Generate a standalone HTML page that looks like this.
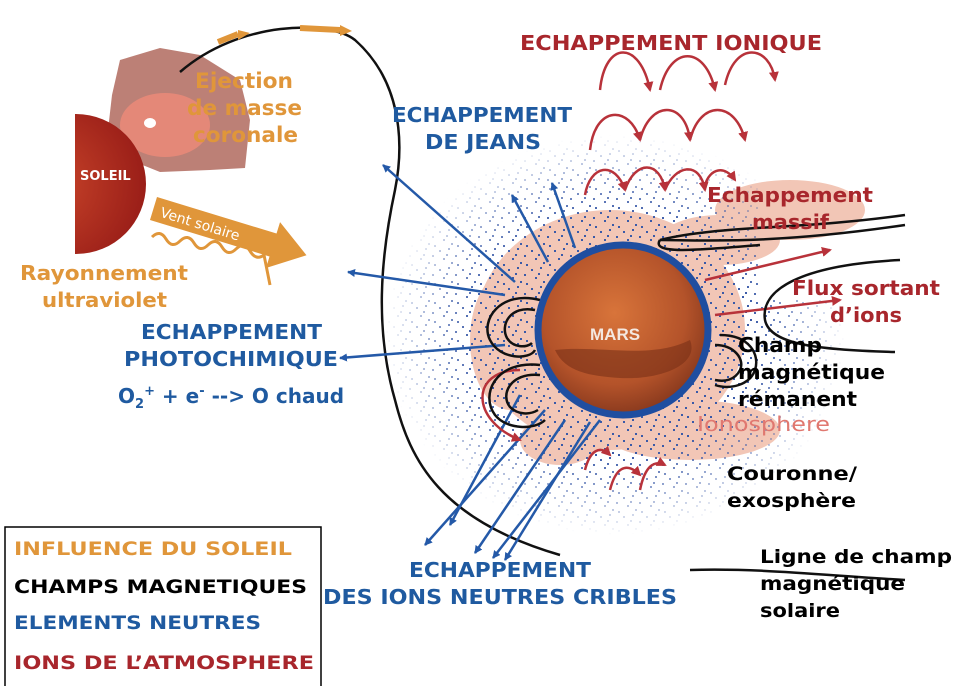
<!DOCTYPE html>
<html><head><meta charset="utf-8"><style>
html,body{margin:0;padding:0;background:#fff;}
svg{display:block;font-family:"DejaVu Sans","Liberation Sans",sans-serif;font-weight:bold;}
</style></head><body>
<svg width="960" height="686" viewBox="0 0 960 686" xmlns="http://www.w3.org/2000/svg">
<defs>
<marker id="ab" markerWidth="8" markerHeight="8" refX="7" refY="4" orient="auto" markerUnits="userSpaceOnUse"><path d="M0,0 L8,4 L0,8 Z" fill="#2459a8"/></marker>
<marker id="ar" markerWidth="10" markerHeight="10" refX="8" refY="5" orient="auto" markerUnits="userSpaceOnUse"><path d="M0,0 L10,5 L0,10 Z" fill="#b8323a"/></marker>
<radialGradient id="mg" cx="0.45" cy="0.4" r="0.6"><stop offset="0" stop-color="#d8743a"/><stop offset="0.7" stop-color="#b4532a"/><stop offset="1" stop-color="#8a3a1e"/></radialGradient>
<radialGradient id="sg" cx="0.3" cy="0.5" r="0.7"><stop offset="0" stop-color="#c9452a"/><stop offset="1" stop-color="#9a1e18"/></radialGradient>
<clipPath id="sc"><rect x="75" y="0" width="200" height="400"/></clipPath>
<pattern id="dp" width="23" height="19" patternUnits="userSpaceOnUse">
<rect x="2" y="3" width="2" height="2" fill="#3a5aa8"/><rect x="11" y="1" width="2" height="2" fill="#3a5aa8"/>
<rect x="18" y="8" width="2" height="2" fill="#3a5aa8"/><rect x="6" y="11" width="2" height="2" fill="#3a5aa8"/>
<rect x="14" y="15" width="2" height="2" fill="#3a5aa8"/><rect x="20" y="17" width="2" height="2" fill="#3a5aa8"/>
<rect x="9" y="7" width="2" height="2" fill="#3a5aa8"/>
</pattern>
<radialGradient id="fade" cx="0.5" cy="0.5" r="0.5"><stop offset="0.6" stop-color="#fff"/><stop offset="1" stop-color="#000"/></radialGradient>
<mask id="dm"><ellipse cx="615" cy="335" rx="230" ry="200" fill="url(#fade)"/><rect x="760" y="100" width="200" height="200" fill="#000"/></mask>
</defs>

<!-- pink clouds -->
<g fill="#f0b9a4" opacity="0.8">
<ellipse cx="610" cy="330" rx="135" ry="120"/>
<ellipse cx="510" cy="340" rx="40" ry="70"/>
<ellipse cx="790" cy="210" rx="75" ry="30"/>
<ellipse cx="720" cy="240" rx="60" ry="25"/>
<ellipse cx="690" cy="430" rx="90" ry="30"/>
<ellipse cx="560" cy="440" rx="40" ry="25"/>
</g>

<!-- blue dots -->
<ellipse cx="615" cy="335" rx="230" ry="200" fill="url(#dp)" mask="url(#dm)"/>

<!-- CME -->
<path d="M120,60 L160,48 L200,55 L240,80 L250,120 L245,168 L210,170 L160,172 L130,160 L108,130 L112,95 Z" fill="#b06a5e" opacity="0.85"/>
<ellipse cx="165" cy="125" rx="45" ry="32" fill="#e48878"/>
<ellipse cx="150" cy="123" rx="6" ry="5" fill="#fff"/>
<!-- Sun -->
<circle cx="76" cy="184" r="70" fill="url(#sg)" clip-path="url(#sc)"/>
<text x="80" y="180" font-size="13" fill="#fff">SOLEIL</text>

<!-- big black curve -->
<path d="M180,72 C240,20 330,20 355,40 C400,80 405,140 395,190 C380,260 375,330 395,400 C410,460 440,520 560,555" fill="none" stroke="#111" stroke-width="2.5"/>
<path d="M218,42 L238,34 M300,28 L340,30" stroke="#e0963a" stroke-width="6" fill="none"/>
<path d="M238,30 L250,33 L238,40 Z M340,25 L352,31 L340,36 Z" fill="#e0963a"/>

<!-- Vent solaire arrow -->
<g transform="translate(157,197) rotate(17)">
<path d="M0,0 L125,0 L125,-12 L160,12 L125,36 L125,24 L0,24 Z" fill="#e0963a"/>
<text x="8" y="18" font-size="14" fill="#fff" font-weight="normal">Vent solaire</text>
</g>
<!-- UV wave -->
<path d="M152,237 q8,-8 14,2 t14,2 t14,2 t14,2 t14,2 t14,2 t14,2 t14,4 l6,30" fill="none" stroke="#e0963a" stroke-width="3"/>

<!-- blue arrows -->
<g stroke="#2459a8" stroke-width="2.5" marker-end="url(#ab)" fill="none">
<line x1="515" y1="282" x2="383" y2="165"/>
<line x1="505" y1="295" x2="348" y2="272"/>
<line x1="505" y1="345" x2="340" y2="358"/>
<line x1="548" y1="262" x2="512" y2="195"/>
<line x1="575" y1="248" x2="552" y2="183"/>
<line x1="545" y1="410" x2="425" y2="545"/>
<line x1="565" y1="420" x2="475" y2="553"/>
<line x1="590" y1="422" x2="505" y2="560"/>
<line x1="600" y1="420" x2="493" y2="558"/>
<line x1="520" y1="395" x2="450" y2="525"/>
</g>

<!-- red arcs -->
<g stroke="#b8323a" stroke-width="2.5" fill="none" marker-end="url(#ar)">
<path d="M600,90 C605,40 640,40 650,90"/>
<path d="M660,90 C670,45 705,45 715,90"/>
<path d="M725,85 C735,40 770,45 775,80"/>
<path d="M590,150 C595,105 630,105 640,140"/>
<path d="M640,140 C650,100 685,100 690,140"/>
<path d="M690,140 C700,100 735,100 745,140"/>
<path d="M585,195 C590,165 615,160 625,190"/>
<path d="M625,190 C635,160 660,160 665,190"/>
<path d="M665,190 C675,165 700,160 705,190"/>
<path d="M705,185 C710,168 725,165 735,180"/>
<path d="M705,280 L830,250"/>
<path d="M715,315 L840,300"/>
<path d="M520,370 C470,370 470,420 520,440"/>
<path d="M610,490 C615,470 625,460 640,475"/>
<path d="M640,490 C645,465 655,460 665,465"/>
<path d="M585,470 C590,450 600,445 610,455"/>
</g>

<!-- black field lines -->
<g stroke="#111" stroke-width="2.5" fill="none">
<path d="M905,215 C800,230 720,225 660,240 C700,240 770,245 905,225" />
<path d="M660,240 C650,255 700,250 760,245"/>
<path d="M900,260 C800,265 760,290 765,320 C770,345 820,350 895,352"/>
<path d="M690,570 C760,568 820,575 905,580"/>
<path d="M720,335 c30,0 40,20 35,35 c-5,15 -25,20 -40,15"/>
<path d="M715,345 c20,0 30,15 25,25 c-5,10 -15,12 -25,10"/>
<path d="M540,300 c-40,-10 -60,20 -50,40 c10,20 40,20 45,10"/>
<path d="M535,310 c-25,-5 -35,15 -28,28 c6,10 20,10 25,5"/>
<path d="M540,365 c-45,-5 -60,30 -45,50 c12,15 40,15 50,5"/>
<path d="M540,375 c-30,-3 -40,20 -30,32 c8,8 20,8 28,3"/>
</g>

<!-- Mars -->
<circle cx="623" cy="330" r="85" fill="url(#mg)" stroke="#1f4ea0" stroke-width="7"/>
<path d="M555,350 C600,345 650,360 690,340 C700,365 660,380 620,378 C590,376 565,372 555,350 Z" fill="#7a3018" opacity="0.6"/>
<text x="590" y="340" font-size="17" fill="#f4e8e0" font-family="Liberation Sans">MARS</text>

<!-- texts -->
<g font-size="20" lengthAdjust="spacingAndGlyphs">
<text x="520" y="50" fill="#a8262c" textLength="302" lengthAdjust="spacingAndGlyphs">ECHAPPEMENT IONIQUE</text>
<text x="392" y="122" fill="#1f5aa0" textLength="180" lengthAdjust="spacingAndGlyphs">ECHAPPEMENT</text>
<text x="425" y="149" fill="#1f5aa0" textLength="116" lengthAdjust="spacingAndGlyphs">DE JEANS</text>
<text x="195" y="88" fill="#e0963a" font-size="21" textLength="98" lengthAdjust="spacingAndGlyphs">Ejection</text>
<text x="187" y="115" fill="#e0963a" font-size="21" textLength="115" lengthAdjust="spacingAndGlyphs">de masse</text>
<text x="193" y="142" fill="#e0963a" font-size="21" textLength="105" lengthAdjust="spacingAndGlyphs">coronale</text>
<text x="20" y="280" fill="#e0963a" textLength="168" lengthAdjust="spacingAndGlyphs">Rayonnement</text>
<text x="42" y="307" fill="#e0963a" textLength="125" lengthAdjust="spacingAndGlyphs">ultraviolet</text>
<text x="141" y="339" fill="#1f5aa0" textLength="181" lengthAdjust="spacingAndGlyphs">ECHAPPEMENT</text>
<text x="124" y="366" fill="#1f5aa0" textLength="214" lengthAdjust="spacingAndGlyphs">PHOTOCHIMIQUE</text>
<text x="118" y="403" fill="#1f5aa0">O<tspan font-size="13" dy="5">2</tspan><tspan font-size="13" dy="-13">+</tspan><tspan dy="8"> + e</tspan><tspan font-size="13" dy="-8">-</tspan><tspan dy="8"> --&gt; O chaud</tspan></text>
<text x="707" y="202" fill="#a8262c" textLength="166" lengthAdjust="spacingAndGlyphs">Echappement</text>
<text x="752" y="229" fill="#a8262c" textLength="77" lengthAdjust="spacingAndGlyphs">massif</text>
<text x="792" y="295" fill="#a8262c" textLength="148" lengthAdjust="spacingAndGlyphs">Flux sortant</text>
<text x="830" y="322" fill="#a8262c" textLength="72" lengthAdjust="spacingAndGlyphs">d’ions</text>
<text x="738" y="352" fill="#000" textLength="84" lengthAdjust="spacingAndGlyphs">Champ</text>
<text x="738" y="379" fill="#000" textLength="147" lengthAdjust="spacingAndGlyphs">magnétique</text>
<text x="738" y="406" fill="#000" textLength="119" lengthAdjust="spacingAndGlyphs">rémanent</text>
<text x="697" y="431" fill="#e07870" font-weight="normal" textLength="133" lengthAdjust="spacingAndGlyphs">Ionosphere</text>
<text x="727" y="480" fill="#000" font-size="19" textLength="130" lengthAdjust="spacingAndGlyphs">Couronne/</text>
<text x="727" y="507" fill="#000" font-size="19" textLength="129" lengthAdjust="spacingAndGlyphs">exosphère</text>
<text x="409" y="577" fill="#1f5aa0" textLength="182" lengthAdjust="spacingAndGlyphs">ECHAPPEMENT</text>
<text x="323" y="604" fill="#1f5aa0" textLength="354" lengthAdjust="spacingAndGlyphs">DES IONS NEUTRES CRIBLES</text>
<text x="760" y="563" fill="#000" font-size="19" textLength="192" lengthAdjust="spacingAndGlyphs">Ligne de champ</text>
<text x="760" y="590" fill="#000" font-size="19" textLength="145" lengthAdjust="spacingAndGlyphs">magnétique</text>
<text x="760" y="617" fill="#000" font-size="19" textLength="80" lengthAdjust="spacingAndGlyphs">solaire</text>
</g>

<!-- legend -->
<rect x="5" y="527" width="316" height="162" fill="#fff" stroke="#000" stroke-width="1.5"/>
<g font-size="19">
<text x="14" y="555" fill="#e0963a" textLength="278" lengthAdjust="spacingAndGlyphs">INFLUENCE DU SOLEIL</text>
<text x="14" y="593" fill="#000" textLength="293" lengthAdjust="spacingAndGlyphs">CHAMPS MAGNETIQUES</text>
<text x="14" y="629" fill="#1f5aa0" textLength="247" lengthAdjust="spacingAndGlyphs">ELEMENTS NEUTRES</text>
<text x="14" y="669" fill="#a8262c" textLength="300" lengthAdjust="spacingAndGlyphs">IONS DE L’ATMOSPHERE</text>
</g>
</svg>
</body></html>
